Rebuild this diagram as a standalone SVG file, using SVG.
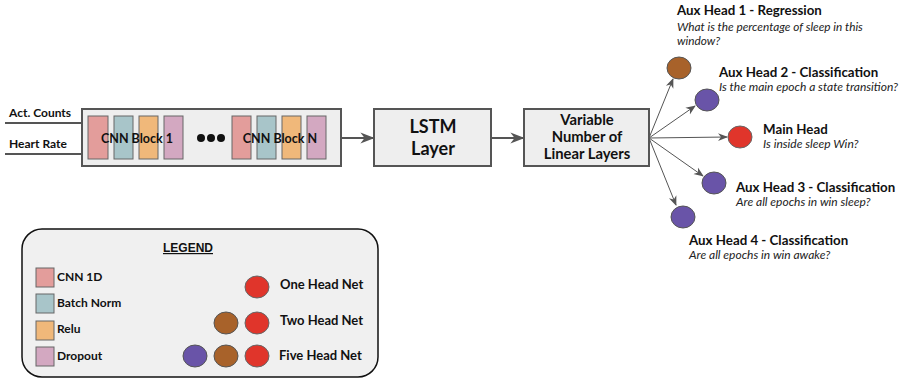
<svg xmlns="http://www.w3.org/2000/svg" width="902" height="380" viewBox="0 0 902 380">
<defs>
<style>
.t{font-family:Lato,"Open Sans","DejaVu Sans",sans-serif;font-weight:bold;fill:#111}
.i{font-family:Lato,"Open Sans","DejaVu Sans",sans-serif;font-style:italic;fill:#222}
.box{fill:#eeeeee;stroke:#555;stroke-width:2}
.cnn{fill:#e39d9b;stroke:#666;stroke-width:1}
.bn{fill:#a8c5c9;stroke:#666;stroke-width:1}
.relu{fill:#f0b87a;stroke:#666;stroke-width:1}
.drop{fill:#d3a8c1;stroke:#666;stroke-width:1}
.red{fill:#e0352b;stroke:#666;stroke-width:1}
.brown{fill:#a8622a;stroke:#555;stroke-width:1}
.purple{fill:#6954a8;stroke:#555;stroke-width:1}
.ln{stroke:#555;stroke-width:2;fill:none}
.fan{stroke:#555;stroke-width:1;fill:none}
</style>
<marker id="ah" viewBox="0 0 10 10" refX="9" refY="5" markerWidth="10" markerHeight="10" markerUnits="userSpaceOnUse" orient="auto">
<path d="M0,1 L10,5 L0,9 L3,5 Z" fill="#555"/>
</marker>
<marker id="ah2" viewBox="0 0 10 10" refX="9" refY="5" markerWidth="14" markerHeight="14" markerUnits="userSpaceOnUse" orient="auto">
<path d="M0,1 L10,5 L0,9 L3,5 Z" fill="#555"/>
</marker>
</defs>
<rect width="902" height="380" fill="#fff"/>

<g id="connectors">
<line class="ln" x1="5" y1="123" x2="82" y2="123"/>
<line class="ln" x1="5" y1="154" x2="82" y2="154"/>
<line class="ln" x1="341" y1="138" x2="373" y2="138" marker-end="url(#ah2)"/>
<line class="ln" x1="491" y1="138" x2="523" y2="138" marker-end="url(#ah2)"/>
<line class="fan" x1="649" y1="138" x2="673" y2="79" marker-end="url(#ah)"/>
<line class="fan" x1="649" y1="138" x2="695" y2="106" marker-end="url(#ah)"/>
<line class="fan" x1="649" y1="138" x2="727" y2="137" marker-end="url(#ah)"/>
<line class="fan" x1="649" y1="138" x2="703" y2="176" marker-end="url(#ah)"/>
<line class="fan" x1="649" y1="138" x2="676" y2="205" marker-end="url(#ah)"/>
</g>

<g id="inputs">
<text class="t" x="9" y="117" font-size="12">Act. Counts</text>
<text class="t" x="9" y="148" font-size="12">Heart Rate</text>
</g>

<g id="cnn-blocks">
<rect class="box" x="82" y="109" width="259" height="57"/>
<rect class="cnn" x="88" y="116" width="20" height="43"/>
<rect class="bn" x="114" y="116" width="19" height="43"/>
<rect class="relu" x="139" y="116" width="19" height="43"/>
<rect class="drop" x="164" y="116" width="19" height="43"/>
<circle cx="201" cy="138" r="4" fill="#111"/>
<circle cx="211" cy="138" r="4" fill="#111"/>
<circle cx="221" cy="138" r="4" fill="#111"/>
<rect class="cnn" x="232" y="116" width="19" height="43"/>
<rect class="bn" x="257" y="116" width="19" height="43"/>
<rect class="relu" x="282" y="116" width="19" height="43"/>
<rect class="drop" x="307" y="116" width="19" height="43"/>
<text class="t" x="137" y="143" font-size="12.5" text-anchor="middle">CNN Block 1</text>
<text class="t" x="280" y="143" font-size="12.5" text-anchor="middle">CNN Block N</text>
</g>

<g id="lstm">
<rect class="box" x="374" y="109" width="117" height="57"/>
<text class="t" x="433" y="133" font-size="18" text-anchor="middle">LSTM</text>
<text class="t" x="433" y="155" font-size="18" text-anchor="middle">Layer</text>
</g>

<g id="linear">
<rect class="box" x="524" y="109" width="125" height="57"/>
<text class="t" x="587" y="125" font-size="14.8" text-anchor="middle">Variable</text>
<text class="t" x="587" y="142" font-size="14.8" text-anchor="middle">Number of</text>
<text class="t" x="587" y="159" font-size="14.8" text-anchor="middle">Linear Layers</text>
</g>

<g id="aux-head-1">
<ellipse class="brown" cx="679" cy="68" rx="12" ry="11"/>
<text class="t" x="677" y="15" font-size="13.3">Aux Head 1 - Regression</text>
<text class="i" x="677" y="30.5" font-size="11.8">What is the percentage of sleep in this</text>
<text class="i" x="677" y="45" font-size="11.8">window?</text>
</g>

<g id="aux-head-2">
<ellipse class="purple" cx="707" cy="100" rx="12" ry="11"/>
<text class="t" x="719" y="77" font-size="13.3">Aux Head 2 - Classification</text>
<text class="i" x="719" y="91" font-size="12">Is the main epoch a state transition?</text>
</g>

<g id="main-head">
<ellipse class="red" cx="740" cy="137" rx="12" ry="11"/>
<text class="t" x="763" y="134" font-size="13.3">Main Head</text>
<text class="i" x="763" y="148" font-size="12">Is inside sleep Win?</text>
</g>

<g id="aux-head-3">
<ellipse class="purple" cx="714" cy="183" rx="12" ry="11"/>
<text class="t" x="736" y="192" font-size="13.3">Aux Head 3 - Classification</text>
<text class="i" x="736" y="206" font-size="12">Are all epochs in win sleep?</text>
</g>

<g id="aux-head-4">
<ellipse class="purple" cx="683" cy="217" rx="12" ry="11"/>
<text class="t" x="689" y="245" font-size="13.3">Aux Head 4 - Classification</text>
<text class="i" x="689" y="259" font-size="12">Are all epochs in win awake?</text>
</g>

<g id="legend">
<rect x="22" y="229" width="356" height="148" rx="20" fill="#f0f0f0" stroke="#111" stroke-width="1.5"/>
<text x="188" y="252" font-family="Liberation Sans, Arial, sans-serif" font-weight="bold" font-size="12" text-anchor="middle" text-decoration="underline" fill="#111">LEGEND</text>
<rect class="cnn" x="36" y="268" width="18" height="19"/>
<rect class="bn" x="36" y="294" width="18" height="19"/>
<rect class="relu" x="36" y="321" width="18" height="19"/>
<rect class="drop" x="36" y="347" width="18" height="19"/>
<text class="t" x="57" y="281" font-size="12">CNN 1D</text>
<text class="t" x="57" y="307" font-size="12">Batch Norm</text>
<text class="t" x="57" y="333" font-size="12">Relu</text>
<text class="t" x="57" y="360" font-size="12">Dropout</text>
<ellipse class="red" cx="257" cy="287" rx="12" ry="11"/>
<ellipse class="brown" cx="226" cy="323" rx="12" ry="11"/>
<ellipse class="red" cx="257" cy="323" rx="12" ry="11"/>
<ellipse class="purple" cx="195" cy="356" rx="12" ry="11"/>
<ellipse class="brown" cx="226" cy="356" rx="12" ry="11"/>
<ellipse class="red" cx="257" cy="356" rx="12" ry="11"/>
<text class="t" x="280" y="289" font-size="13">One Head Net</text>
<text class="t" x="280" y="325" font-size="13">Two Head Net</text>
<text class="t" x="279" y="360" font-size="13">Five Head Net</text>
</g>
</svg>
